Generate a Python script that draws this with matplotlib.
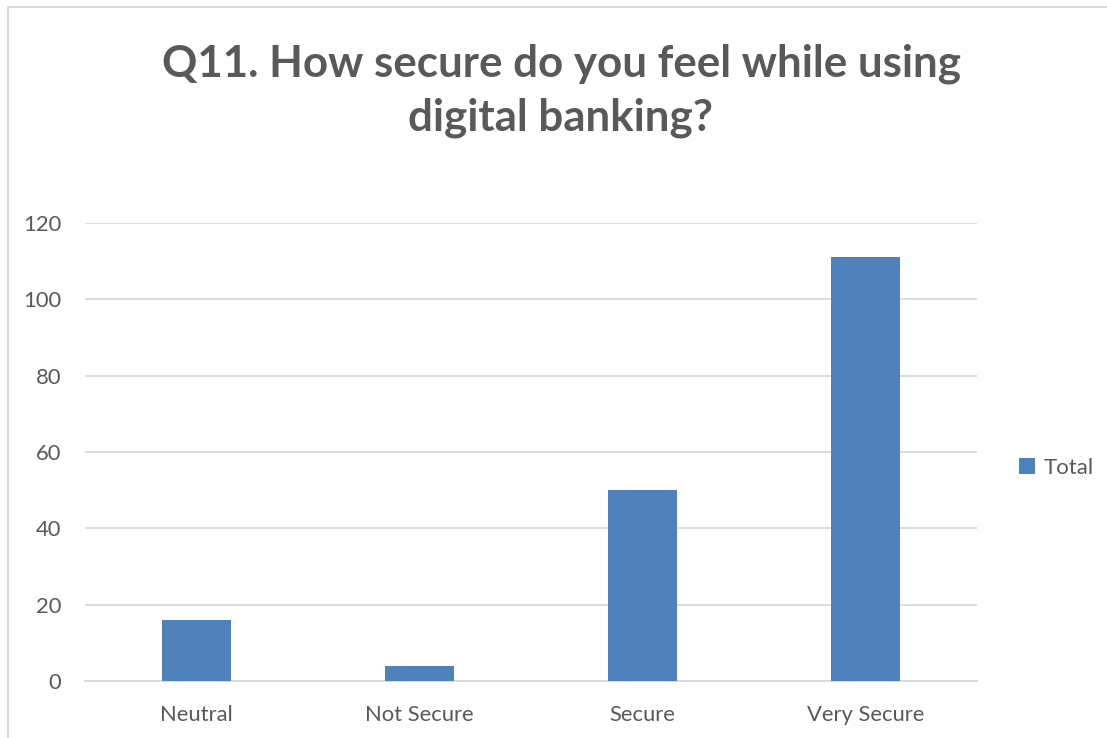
import matplotlib
matplotlib.use("Agg")
import matplotlib.pyplot as plt
from matplotlib.patches import Rectangle

categories = ["Neutral", "Not Secure", "Secure", "Very Secure"]
totals = [16, 4, 50, 111]
yticks = [0, 20, 40, 60, 80, 100, 120]
title = "Q11. How secure do you feel while using\ndigital banking?"

plt.rcParams["font.family"] = ["Lato", "DejaVu Sans"]
text_color = "#595959"
bar_color = "#4f81bd"
grid_color = "#d9d9d9"

fig = plt.figure(figsize=(11.07, 7.38), dpi=100)
fig.patch.set_facecolor("white")

# chart-area frame
fig.patches.append(Rectangle((8 / 1107, -0.1), 1.2, 1 - 7 / 738 + 0.1,
                             transform=fig.transFigure, fill=False,
                             edgecolor=grid_color, linewidth=1.5))

ax = fig.add_axes([85 / 1107, 1 - 681 / 738, (977 - 85) / 1107, (681 - 223) / 738])
x = range(len(categories))
ax.bar(x, totals, width=0.31, color=bar_color, label="Total", zorder=3)
ax.set_xlim(-0.5, len(categories) - 0.5)
ax.set_ylim(0, 120)
ax.set_yticks(yticks)
ax.set_xticks(list(x))
ax.set_xticklabels(categories)
ax.grid(axis="y", color=grid_color, linewidth=1.3, zorder=0)
for s in ["top", "right", "left"]:
    ax.spines[s].set_visible(False)
ax.spines["bottom"].set_color(grid_color)
ax.spines["bottom"].set_linewidth(1.3)
ax.tick_params(axis="both", length=0, labelsize=15.8, colors=text_color)
ax.tick_params(axis="y", pad=17)
ax.tick_params(axis="x", pad=17)

fig.text(561 / 1107, 1 - 91 / 738, title, ha="center", va="center",
         fontsize=31.6, fontweight="bold", color=text_color, linespacing=1.42)

fig.legend(loc="center left", bbox_to_anchor=(999 / 1107, 1 - 468 / 738),
           frameon=False, fontsize=16, labelcolor=text_color,
           handlelength=0.7, handleheight=0.7, handletextpad=0.4)

fig.savefig("out.png", dpi=100)
